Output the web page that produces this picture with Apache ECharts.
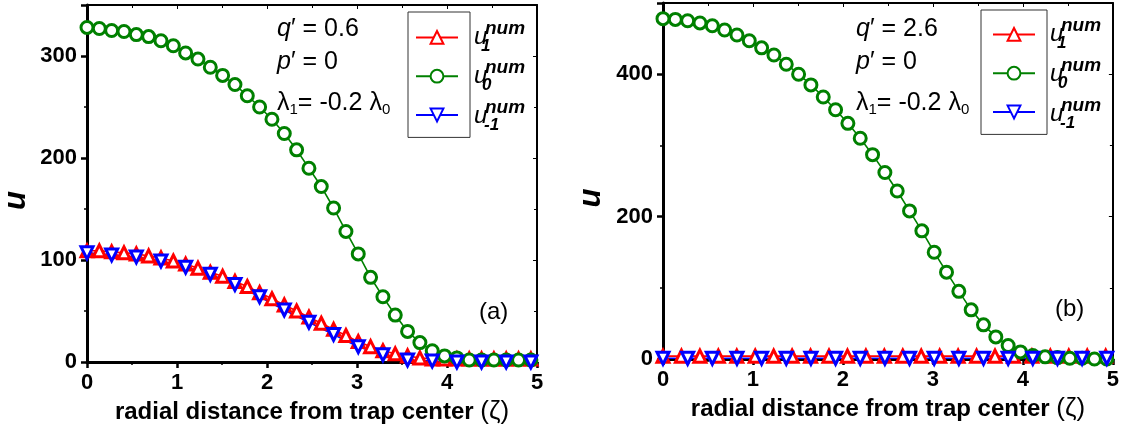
<!DOCTYPE html>
<html>
	<head>
		<meta charset="utf-8">
		<title>u vs radial distance</title>
		<script src="https://cdn.jsdelivr.net/npm/echarts@6/dist/echarts.min.js"></script>
	</head>
	<style>
		html, body { margin: 0; padding: 0; background: #fff; }
		#main { width: 1122px; height: 438px; }
	</style>
	<body>
		<div id="main"></div>
		<script type="text/javascript">
			// sampling grids of the markers (zeta)
			var xs37 = [0, 0.137, 0.274, 0.411, 0.548, 0.685, 0.822, 0.959, 1.096, 1.233, 1.37, 1.507, 1.644, 1.781, 1.918, 2.055, 2.192, 2.329, 2.466, 2.603, 2.74, 2.877, 3.014, 3.151, 3.288, 3.425, 3.562, 3.699, 3.836, 3.973, 4.11, 4.247, 4.384, 4.521, 4.658, 4.795, 4.932];
			var xs19 = [0, 0.274, 0.548, 0.822, 1.096, 1.37, 1.644, 1.918, 2.192, 2.466, 2.74, 3.014, 3.288, 3.562, 3.836, 4.11, 4.384, 4.658, 4.932];
			var xs25 = [0, 0.205, 0.41, 0.615, 0.82, 1.025, 1.23, 1.435, 1.64, 1.845, 2.05, 2.255, 2.46, 2.665, 2.87, 3.075, 3.28, 3.485, 3.69, 3.895, 4.1, 4.305, 4.51, 4.715, 4.92];

			// panel (a): q' = 0.6
			var u1A = [109, 109, 108, 107, 106, 104, 102, 99, 96, 92, 88, 84, 79, 74, 68, 62, 56, 50, 44, 38, 32, 26, 20, 15, 11, 8, 6, 4, 3, 3, 3, 3, 3, 3, 3, 3, 3];
			var u0A = [328, 327, 325, 324, 321, 319, 315, 310, 303, 297, 289, 281, 272, 261, 250, 238, 224, 208, 190, 172, 151, 128, 106, 83, 64, 46, 30, 19, 11, 6, 4, 2, 2, 2, 2, 2, 2];
			var um1A = [107, 105, 103, 99, 93, 86, 76, 64, 51, 39, 27, 15, 7, 2, 1, 0, 0, 0, 0];

			// panel (b): q' = 2.6
			var u1B = [4, 4, 4, 4, 4, 4, 4, 4, 4, 4, 4, 4, 4, 4, 4, 4, 4, 4, 4, 4, 4, 4, 4, 4, 4];
			var u0B = [478, 477, 475, 472, 468, 462, 455, 447, 437, 427, 414, 400, 385, 368, 350, 331, 310, 287, 262, 236, 208, 180, 150, 122, 95, 69, 48, 31, 19, 10, 5, 3, 2, 1, 1, 0, 0];
			var um1B = [1, 1, 1, 1, 1, 1, 1, 1, 1, 1, 1, 1, 1, 1, 1, 1, 1, 1, 1];

			var xTicks = [0, 1, 2, 3, 4, 5];
			var yMaxA = 350, yStepA = 100;
			var yMaxB = 500, yStepB = 200;

			var FONT = 'Liberation Sans';

			function pairs(xs, ys) {
				return xs.map(function(x, i) { return [x, ys[i]]; });
			}

			function lineSeries(name, color, symbol, rotate, xi, yi, data) {
				return {
					name: name,
					type: 'line',
					xAxisIndex: xi,
					yAxisIndex: yi,
					data: data,
					symbol: symbol,
					symbolRotate: rotate,
					symbolSize: 12,
					showAllSymbol: true,
					clip: false,
					lineStyle: { color: color, width: 1.6 },
					itemStyle: { color: '#fff', borderColor: color, borderWidth: 3 },
					emphasis: { disabled: true },
					animation: false
				};
			}

			function xAxisPair(gi) {
				return [{
					type: 'value', gridIndex: gi, min: 0, max: 5, interval: 1,
					position: 'bottom',
					name: '{b|radial distance from trap center }{z|(ζ)}',
					nameLocation: 'middle', nameGap: 37,
					nameTextStyle: {
						rich: {
							b: { fontFamily: FONT, fontWeight: 'bold', fontSize: 24, color: '#000' },
							z: { fontFamily: FONT, fontSize: 26, color: '#000' }
						}
					},
					axisLine: { onZero: false, lineStyle: { color: '#000', width: 3 } },
					axisTick: { length: 6, lineStyle: { color: '#000', width: 2.5 } },
					minorTick: { show: true, splitNumber: 2, length: 3, lineStyle: { color: '#000', width: 1.5 } },
					axisLabel: {
						margin: 10, color: '#000', fontFamily: FONT, fontWeight: 'bold', fontSize: 22,
						formatter: function(v) { return xTicks.indexOf(v) >= 0 ? String(v) : ''; }
					},
					splitLine: { show: false }
				}, {
					type: 'value', gridIndex: gi, min: 0, max: 5, interval: 1,
					position: 'top',
					axisLine: { onZero: false, lineStyle: { color: '#000', width: 2 } },
					axisTick: { inside: true, length: 4, lineStyle: { color: '#000', width: 1 } },
					minorTick: { show: true, splitNumber: 2, length: 3, lineStyle: { color: '#000', width: 1 } },
					axisLabel: { show: false },
					splitLine: { show: false }
				}];
			}

			function yAxisPair(gi, ymax, step, gap) {
				return [{
					type: 'value', gridIndex: gi, min: 0, max: ymax, interval: step,
					position: 'left',
					name: 'u',
					nameLocation: 'middle', nameGap: gap, nameRotate: 90,
					nameTextStyle: {
						fontFamily: FONT, fontWeight: 'bold', fontStyle: 'italic', fontSize: 31, color: '#000',
						padding: [0, 34, 0, 0]
					},
					axisLine: { onZero: false, lineStyle: { color: '#000', width: 3 } },
					axisTick: { length: 6, lineStyle: { color: '#000', width: 2.5 } },
					minorTick: { show: true, splitNumber: 2, length: 3, lineStyle: { color: '#000', width: 1.5 } },
					axisLabel: {
						margin: 10, color: '#000', fontFamily: FONT, fontWeight: 'bold', fontSize: 22,
						showMaxLabel: false
					},
					splitLine: { show: false }
				}, {
					type: 'value', gridIndex: gi, min: 0, max: ymax, interval: step,
					position: 'right',
					axisLine: { onZero: false, lineStyle: { color: '#000', width: 2 } },
					axisTick: { inside: true, length: 4, lineStyle: { color: '#000', width: 1 } },
					minorTick: { show: true, splitNumber: 2, length: 3, lineStyle: { color: '#000', width: 1 } },
					axisLabel: { show: false },
					splitLine: { show: false }
				}];
			}

			function legendBox(left, top, pad) {
				return {
					left: left, top: top,
					orient: 'vertical',
					data: ['u1', 'u0', 'u-1'],
					itemWidth: 42, itemHeight: 16, itemGap: 24,
					padding: pad,
					borderColor: '#333', borderWidth: 1,
					selectedMode: false,
					formatter: function() { return '{w|}'; },
					textStyle: { fontSize: 1, rich: { w: { width: 58, height: 16 } } }
				};
			}

			// legend labels (u with super/subscripts)
			function legendLabels(x0, rows) {
				var subs = ['1', '0', '-1'];
				var subX = [7, 8, 10];
				var out = [];
				rows.forEach(function(yc, i) {
					out.push({ type: 'text', x: x0, y: yc - 1, style: {
						text: 'u', font: 'italic 24px ' + FONT, fill: '#000', verticalAlign: 'middle' } });
					out.push({ type: 'text', x: x0 + 11, y: yc - 9, style: {
						text: 'num', font: 'italic bold 19px ' + FONT, fill: '#000', verticalAlign: 'middle' } });
					out.push({ type: 'text', x: x0 + subX[i], y: yc + 8, style: {
						text: subs[i], font: 'italic bold 17px ' + FONT, fill: '#000', verticalAlign: 'middle' } });
				});
				return out;
			}

			function notes(x0, qval, tag, tagX, tagY) {
				var rich = {
					t: { fontFamily: FONT, fontSize: 25, color: '#000', lineHeight: 26, verticalAlign: 'top' },
					i: { fontFamily: FONT, fontSize: 25, fontStyle: 'italic', color: '#000', lineHeight: 26, verticalAlign: 'top' },
					s: { fontFamily: FONT, fontSize: 15, color: '#000', lineHeight: 15, verticalAlign: 'bottom', padding: [17, 0, 0, 0] }
				};
				return [
					{ type: 'text', left: x0, top: 17, style: { text: '{i|q}{t|′ = ' + qval + '}', rich: rich } },
					{ type: 'text', left: x0, top: 50, style: { text: '{i|p}{t|′ = 0}', rich: rich } },
					{ type: 'text', left: x0, top: 85, style: { text: '{t|λ}{s|1}{t|= -0.2 λ}{s|0}', rich: rich } },
					{ type: 'text', left: tagX, top: tagY, style: { text: tag, font: '24px ' + FONT, fill: '#000' } }
				];
			}

			var myChart = echarts.init(document.getElementById('main'), null, { renderer: 'canvas' });

			var option = {
				backgroundColor: '#fff',
				animation: false,
				grid: [
					{ left: 84, top: 5, width: 453, height: 357 },
					{ left: 663, top: 3, width: 450, height: 356 }
				],
				xAxis: xAxisPair(0).concat(xAxisPair(1)),
				yAxis: yAxisPair(0, yMaxA, yStepA, 55).concat(yAxisPair(1, yMaxB, yStepB, 56)),
				legend: [
					legendBox(408, 12, [18, 7, 15, 7]),
					legendBox(981, 10, [17, 7, 15, 11])
				],
				series: [
					lineSeries('u1', '#ff0000', 'triangle', 0, 0, 0, pairs(xs37, u1A)),
					lineSeries('u0', '#008000', 'circle', 0, 0, 0, pairs(xs37, u0A)),
					lineSeries('u-1', '#0000ff', 'triangle', 180, 0, 0, pairs(xs19, um1A)),
					lineSeries('u1', '#ff0000', 'triangle', 0, 2, 2, pairs(xs25, u1B)),
					lineSeries('u0', '#008000', 'circle', 0, 2, 2, pairs(xs37, u0B)),
					lineSeries('u-1', '#0000ff', 'triangle', 180, 2, 2, pairs(xs19, um1B))
				],
				graphic: []
					.concat(legendLabels(474, [38, 77, 117]))
					.concat(legendLabels(1050, [35, 75, 115]))
					.concat(notes(277, '0.6', '(a)', 479, 300))
					.concat(notes(856, '2.6', '(b)', 1055, 297))
			};
			myChart.setOption(option);
		</script>
	</body>
</html>
